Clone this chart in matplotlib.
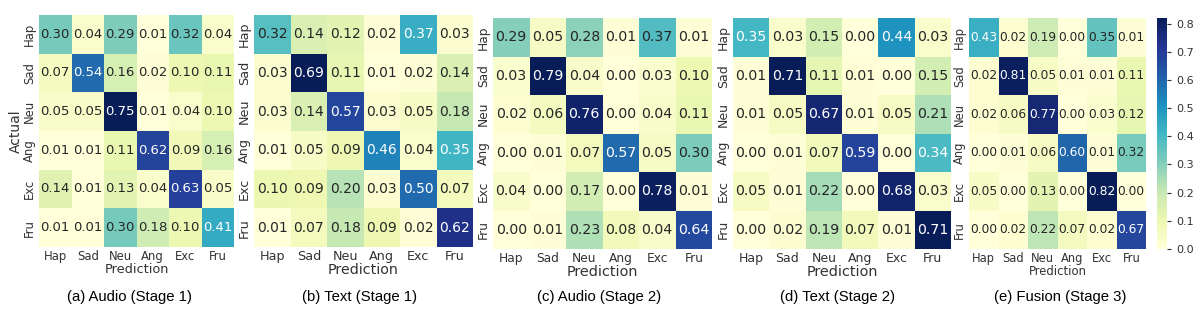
import matplotlib
matplotlib.use("Agg")
import matplotlib.pyplot as plt
import seaborn as sns
import numpy as np

# class labels
labels = ["Hap", "Sad", "Neu", "Ang", "Exc", "Fru"]

# normalised confusion matrices (rows = actual, cols = prediction)
audio_stage1 = [
    [0.30, 0.04, 0.29, 0.01, 0.32, 0.04],
    [0.07, 0.54, 0.16, 0.02, 0.10, 0.11],
    [0.05, 0.05, 0.75, 0.01, 0.04, 0.10],
    [0.01, 0.01, 0.11, 0.62, 0.09, 0.16],
    [0.14, 0.01, 0.13, 0.04, 0.63, 0.05],
    [0.01, 0.01, 0.30, 0.18, 0.10, 0.41],
]
text_stage1 = [
    [0.32, 0.14, 0.12, 0.02, 0.37, 0.03],
    [0.03, 0.69, 0.11, 0.01, 0.02, 0.14],
    [0.03, 0.14, 0.57, 0.03, 0.05, 0.18],
    [0.01, 0.05, 0.09, 0.46, 0.04, 0.35],
    [0.10, 0.09, 0.20, 0.03, 0.50, 0.07],
    [0.01, 0.07, 0.18, 0.09, 0.02, 0.62],
]
audio_stage2 = [
    [0.29, 0.05, 0.28, 0.01, 0.37, 0.01],
    [0.03, 0.79, 0.04, 0.00, 0.03, 0.10],
    [0.02, 0.06, 0.76, 0.00, 0.04, 0.11],
    [0.00, 0.01, 0.07, 0.57, 0.05, 0.30],
    [0.04, 0.00, 0.17, 0.00, 0.78, 0.01],
    [0.00, 0.01, 0.23, 0.08, 0.04, 0.64],
]
text_stage2 = [
    [0.35, 0.03, 0.15, 0.00, 0.44, 0.03],
    [0.01, 0.71, 0.11, 0.01, 0.00, 0.15],
    [0.01, 0.05, 0.67, 0.01, 0.05, 0.21],
    [0.00, 0.01, 0.07, 0.59, 0.00, 0.34],
    [0.05, 0.01, 0.22, 0.00, 0.68, 0.03],
    [0.00, 0.02, 0.19, 0.07, 0.01, 0.71],
]
fusion_stage3 = [
    [0.43, 0.02, 0.19, 0.00, 0.35, 0.01],
    [0.02, 0.81, 0.05, 0.01, 0.01, 0.11],
    [0.02, 0.06, 0.77, 0.00, 0.03, 0.12],
    [0.00, 0.01, 0.06, 0.60, 0.01, 0.32],
    [0.05, 0.00, 0.13, 0.00, 0.82, 0.00],
    [0.00, 0.02, 0.22, 0.07, 0.02, 0.67],
]
captions = ["(a) Audio (Stage 1)", "(b) Text (Stage 1)", "(c) Audio (Stage 2)",
            "(d) Text (Stage 2)", "(e) Fusion (Stage 3)"]
matrices = [audio_stage1, text_stage1, audio_stage2, text_stage2, fusion_stage3]

W, H = 1196, 312
fig = plt.figure(figsize=(W / 100, H / 100), dpi=100)

def px_axes(x0, y0, x1, y1):
    # pixel box (top-left origin) -> figure axes
    return fig.add_axes([x0 / W, 1 - y1 / H, (x1 - x0) / W, (y1 - y0) / H])

# panel boxes in pixels: (left, top, right, bottom)
boxes = [(39, 15, 234, 247), (254, 15, 473, 247), (493, 18, 712, 249),
         (733, 18, 951, 249), (969, 18, 1146, 249)]
annot_sizes = [9.5, 10, 10.2, 10.2, 8.8]
tick_sizes = [8.4, 9.2, 8.8, 9, 8.3]
label_sizes = [9.3, 10.3, 10.4, 10.4, 8.4]
caption_x = [129, 359, 599, 837, 1060]

cax = px_axes(1157, 18, 1167, 249)

for i, m in enumerate(matrices):
    ax = px_axes(*boxes[i])
    data = np.array(m)
    last = i == len(matrices) - 1
    sns.heatmap(data, ax=ax, cmap="YlGnBu", annot=True, fmt=".2f",
                annot_kws={"fontsize": annot_sizes[i]},
                cbar=last, cbar_ax=cax if last else None,
                xticklabels=labels, yticklabels=labels)
    ax.tick_params(length=0, pad=2, labelsize=tick_sizes[i], colors="#333333")
    ax.set_yticklabels(labels, rotation=90, va="center")
    ax.set_xticklabels(labels, rotation=0)
    ax.set_xlabel("Prediction", fontsize=label_sizes[i], color="#333333", labelpad=0)
    if i == 0:
        ax.set_ylabel("Actual", fontsize=10, color="#333333", labelpad=0)
    fig.text(caption_x[i] / W, 1 - 297 / H, captions[i], ha="center", va="center",
             fontsize=10.7, family="Liberation Sans")

cax.set_yticks(np.arange(0, 0.81, 0.1))
cax.tick_params(labelsize=8, length=3, colors="#333333")
for s in cax.spines.values():
    s.set_visible(False)

fig.savefig("out.png", dpi=100)
